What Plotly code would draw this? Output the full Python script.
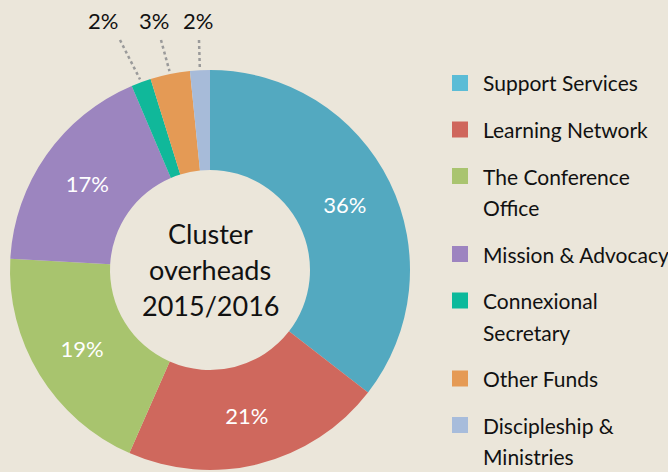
import math
import plotly.graph_objects as go

# ---- data ----
categories = ["Support Services", "Learning Network", "The Conference Office",
              "Mission & Advocacy", "Connexional Secretary", "Other Funds",
              "Discipleship & Ministries"]
legend_lines = [["Support Services"], ["Learning Network"], ["The Conference", "Office"],
                ["Mission & Advocacy"], ["Connexional", "Secretary"], ["Other Funds"],
                ["Discipleship &", "Ministries"]]
values = [35.5, 21.1, 19.3, 17.7, 1.6, 3.2, 1.6]
pct_labels = ["36%", "21%", "19%", "17%", "2%", "3%", "2%"]
pie_colors = ["#53a9c0", "#cf685d", "#a8c46e", "#9c85bf", "#10b89a", "#e49a55", "#a7bbd9"]
legend_colors = ["#5bbcd6", "#cf665c", "#a9c46f", "#9d84c0", "#0cb99b", "#e59a54", "#a7bcdb"]
center_lines = ["Cluster", "overheads", "2015/2016"]

W, H = 668, 472
BG = "#ebe6da"
FONT = "Lato"

def px(x):
    return x / W

def py(y):
    return 1 - y / H

# pie geometry (pixels)
cx, cy, R = 210, 270, 200

inside = [v >= 10 for v in values]
fig = go.Figure(go.Pie(
    labels=categories, values=values, sort=False, direction="clockwise", rotation=0,
    hole=0.5, marker=dict(colors=pie_colors, line=dict(width=0)),
    text=[t if ins else "" for t, ins in zip(pct_labels, inside)],
    textinfo="text", textposition=["inside" if i else "none" for i in inside],
    insidetextorientation="horizontal",
    insidetextfont=dict(color="white", size=22, family=FONT),
    hoverinfo="label+percent",
    domain=dict(x=[px(cx - R), px(cx + R)], y=[py(cy + R), py(cy - R)]),
    showlegend=False,
))

annotations = []
shapes = []

# center text
for i, line in enumerate(center_lines):
    annotations.append(dict(x=px(cx), y=py(233 + 36 * i), xref="paper", yref="paper",
                            text=line, showarrow=False, xanchor="center", yanchor="middle",
                            font=dict(size=27, color="#111111", family=FONT)))

# outside labels for small slices with dotted leaders
total = sum(values)
small_idx = [i for i, ins in enumerate(inside) if not ins]
label_x = [103, 154, 198]
line_start_x = [120, 161, 199]
cum = 0
mids = []
for v in values:
    mids.append((cum + v / 2) / total * 360)
    cum += v
for k, i in enumerate(small_idx):
    annotations.append(dict(x=px(label_x[k]), y=py(20), xref="paper", yref="paper",
                            text=pct_labels[i], showarrow=False, xanchor="center",
                            yanchor="middle", font=dict(size=22, color="#111111", family=FONT)))
    ang = math.radians(mids[i])
    ex = cx + (R + 3) * math.sin(ang)
    ey = cy - (R + 3) * math.cos(ang)
    shapes.append(dict(type="line", xref="paper", yref="paper",
                       x0=px(line_start_x[k]), y0=py(40), x1=px(ex), y1=py(ey),
                       line=dict(color="#9a9a9a", width=2.5, dash="dot")))

# custom legend
y = 83
for i, lines in enumerate(legend_lines):
    shapes.append(dict(type="rect", xref="paper", yref="paper",
                       x0=px(452), x1=px(468), y0=py(y - 8), y1=py(y + 8),
                       fillcolor=legend_colors[i], line=dict(width=0)))
    for j, ln in enumerate(lines):
        annotations.append(dict(x=px(481), y=py(y + 31.5 * j), xref="paper", yref="paper",
                                text=ln, showarrow=False, xanchor="left", yanchor="middle",
                                font=dict(size=21, color="#111111", family=FONT)))
    y += 31.5 * (len(lines) - 1) + 46.5

fig.update_layout(width=W, height=H, margin=dict(l=0, r=0, t=0, b=0),
                  paper_bgcolor=BG, plot_bgcolor=BG,
                  annotations=annotations, shapes=shapes,
                  font=dict(family=FONT))
fig.write_html("out.html", config={"displayModeBar": False},
               post_script="document.body.style.margin='0';document.body.style.padding='0';")
